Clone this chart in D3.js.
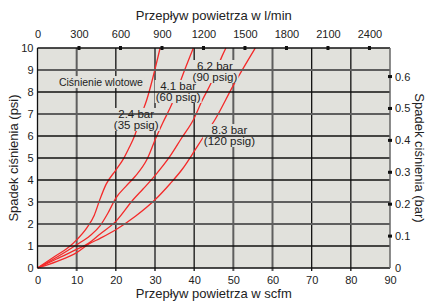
<!DOCTYPE html>
<html>
<head>
<meta charset="utf-8">
<script src="https://cdn.jsdelivr.net/npm/d3@7"></script>
<style>
  body { margin: 0; background: #fff; }
  svg { display: block; font-family: "Liberation Sans", Arial, sans-serif; }
</style>
</head>
<body>
<div id="chart"></div>
<script>
// data: flow in scfm vs pressure drop in psi
var scfmTicks = [0, 10, 20, 30, 40, 50, 60, 70, 80, 90];
var psiTicks = [0, 1, 2, 3, 4, 5, 6, 7, 8, 9, 10];
var lpmTicks = [0, 300, 600, 900, 1200, 1500, 1800, 2100, 2400];
var barTicks = [0, 0.1, 0.2, 0.3, 0.4, 0.5, 0.6];
var darkScfm = [10, 30, 50, 60];
var darkPsi = [2, 3, 7, 9];

var curve24 = [[0,0],[4,0.48],[8,0.95],[10,1.28],[12.5,1.8],[14.5,2.4],[15.9,3.1],[17.5,3.8],[20,4.45],[21.9,4.95],[23.2,5.4],[24.9,6.06],[26.5,6.95],[27.9,7.65],[31.3,10]];
var curve41 = [[0,0],[5,0.5],[10,1.06],[13.4,1.47],[15.9,1.9],[18,2.5],[20,3.18],[22.5,3.7],[24.9,4.16],[27.9,4.92],[30.2,5.9],[32,6.6],[34.3,7.45],[36.8,8.64],[39.8,10]];
var curve62 = [[0,0],[5,0.42],[10,0.85],[13,1.12],[16,1.55],[20,2.12],[24.4,3.1],[27,3.6],[30,4.2],[33.8,5.07],[36.8,5.91],[39.8,6.74],[42,7.6],[44.5,8.48],[47.1,9.62],[48.1,10]];
var curve83 = [[0,0],[5,0.3],[10,0.7],[13,1.08],[16,1.35],[20,1.74],[25,2.35],[30,3.1],[33.8,3.82],[37,4.5],[40,5.3],[41.9,5.83],[45.3,6.74],[50,8.3],[55.6,10]];
var curves = [curve24, curve41, curve62, curve83];

// curve labels: [scfm, psi of first baseline, line1, line2]
var curveLabels = [
  [25.2, 6.82, "2.4 bar", "(35 psig)"],
  [35.9, 8.09, "4.1 bar", "(60 psig)"],
  [45.3, 9.0, "6.2 bar", "(90 psig)"],
  [49.0, 6.09, "8.3 bar", "(120 psig)"]
];
var inletLabel = [16.2, 8.27, "Ciśnienie wlotowe"];

var W = 428, H = 303;
var margin = {top: 48, right: 38, bottom: 35, left: 37.5};
var width = W - margin.left - margin.right,
    height = H - margin.top - margin.bottom;

var x = d3.scaleLinear().domain([0, 90]).range([0, width]);
var y = d3.scaleLinear().domain([0, 10]).range([height, 0]);
var LPM = 28.3168, BAR = 0.0689476;

var svg = d3.select("#chart").append("svg")
    .attr("width", W).attr("height", H);
var g = svg.append("g")
    .attr("transform", "translate(" + margin.left + "," + margin.top + ")");

g.append("rect")
    .attr("width", width).attr("height", height)
    .attr("fill", "#e1e1dc");

// vertical grid
g.selectAll(".vgrid")
  .data(scfmTicks.slice(1, -1))
  .enter().append("line")
    .attr("class", "vgrid")
    .attr("x1", function(d) { return x(d); })
    .attr("x2", function(d) { return x(d); })
    .attr("y1", 0).attr("y2", height + 3)
    .attr("stroke", function(d) { return darkScfm.indexOf(d) >= 0 ? "#5e5e5e" : "#111"; })
    .attr("stroke-width", function(d) { return darkScfm.indexOf(d) >= 0 ? 2 : 1.3; });

var line = d3.line()
    .x(function(d) { return x(d[0]); })
    .y(function(d) { return y(d[1]); })
    .curve(d3.curveMonotoneX);

g.selectAll(".curve")
  .data(curves)
  .enter().append("path")
    .attr("class", "curve")
    .attr("d", line)
    .attr("fill", "none")
    .attr("stroke", "#f42a2a")
    .attr("stroke-width", 1.3);

// label boxes hide the curves and vertical lines behind them
var boxLayer = g.append("g");
var hLayer = g.append("g");
var textLayer = g.append("g");
function boxedLabel(cx, psi, lines, size) {
  var t = textLayer.append("text")
      .attr("text-anchor", "middle")
      .attr("font-size", size)
      .attr("fill", "#222");
  lines.forEach(function(s, i) {
    t.append("tspan").attr("x", x(cx)).attr("y", y(psi) + i * 11).text(s);
  });
  var bb = t.node().getBBox();
  boxLayer.append("rect")
      .attr("x", bb.x - 1).attr("y", bb.y)
      .attr("width", bb.width + 2).attr("height", bb.height)
      .attr("fill", "#e1e1dc");
}
curveLabels.forEach(function(d) {
  boxedLabel(d[0], d[1], [d[2], d[3]], 11.5);
});
boxedLabel(inletLabel[0], inletLabel[1], [inletLabel[2]], 10.5);

// horizontal grid
hLayer.selectAll(".hgrid")
  .data(psiTicks.slice(1, -1))
  .enter().append("line")
    .attr("class", "hgrid")
    .attr("x1", 0).attr("x2", width)
    .attr("y1", function(d) { return y(d); })
    .attr("y2", function(d) { return y(d); })
    .attr("stroke", function(d) { return darkPsi.indexOf(d) >= 0 ? "#5e5e5e" : "#111"; })
    .attr("stroke-width", function(d) { return darkPsi.indexOf(d) >= 0 ? 2 : 1.3; });

// frame
g.append("line").attr("x1", 0).attr("x2", width).attr("y1", 0).attr("y2", 0)
    .attr("stroke", "#111").attr("stroke-width", 1.5);
g.append("line").attr("x1", 0).attr("x2", width).attr("y1", height).attr("y2", height)
    .attr("stroke", "#111").attr("stroke-width", 1.5);
g.append("line").attr("x1", 0).attr("x2", 0).attr("y1", 0).attr("y2", height)
    .attr("stroke", "#111").attr("stroke-width", 1.3);
g.append("line").attr("x1", width).attr("x2", width).attr("y1", 0).attr("y2", height)
    .attr("stroke", "#666").attr("stroke-width", 1.5);

// axes
var fs = 11;
function styleAxis(a) {
  a.select(".domain").remove();
  a.selectAll("text").attr("font-size", fs).attr("fill", "#222").attr("font-family", null);
}
g.append("g")
    .attr("transform", "translate(0," + height + ")")
    .call(d3.axisBottom(x).tickValues(scfmTicks).tickSize(0).tickPadding(8))
    .call(styleAxis);

g.append("g")
    .call(d3.axisLeft(y).tickValues(psiTicks).tickSize(0).tickPadding(4))
    .call(styleAxis);

var xTop = d3.scaleLinear().domain([0, 90 * LPM]).range([0, width]);
g.append("g")
    .call(d3.axisTop(xTop).tickValues(lpmTicks).tickSize(0).tickPadding(10)
      .tickFormat(d3.format("d")))
    .call(styleAxis);
g.selectAll(".topmark")
  .data(lpmTicks.slice(1))
  .enter().append("rect")
    .attr("class", "topmark")
    .attr("x", function(d) { return xTop(d) - 1.5; })
    .attr("y", -2).attr("width", 3).attr("height", 4)
    .attr("fill", "#111");

var yRight = d3.scaleLinear().domain([0, 10 * BAR]).range([height, 0]);
g.append("g")
    .attr("transform", "translate(" + width + ",0)")
    .call(d3.axisRight(yRight).tickValues(barTicks).tickSize(0).tickPadding(5)
      .tickFormat(function(d) { return d === 0 ? "0" : d3.format(".1f")(d); }))
    .call(styleAxis);
g.selectAll(".rightmark")
  .data(barTicks.slice(1))
  .enter().append("rect")
    .attr("class", "rightmark")
    .attr("x", width - 2).attr("y", function(d) { return yRight(d) - 1.5; })
    .attr("width", 4).attr("height", 3)
    .attr("fill", "#111");

// titles
var tfs = 13;
svg.append("text").attr("x", margin.left + width / 2).attr("y", 20)
    .attr("text-anchor", "middle").attr("font-size", tfs).attr("fill", "#222")
    .text("Przepływ powietrza w l/min");
svg.append("text").attr("x", margin.left + width / 2).attr("y", 298)
    .attr("text-anchor", "middle").attr("font-size", tfs).attr("fill", "#222")
    .text("Przepływ powietrza w scfm");
svg.append("text")
    .attr("transform", "translate(18," + (margin.top + height / 2) + ") rotate(-90)")
    .attr("text-anchor", "middle").attr("font-size", tfs).attr("fill", "#222")
    .text("Spadek ciśnienia (psi)");
svg.append("text")
    .attr("transform", "translate(415," + (margin.top + height / 2) + ") rotate(90)")
    .attr("text-anchor", "middle").attr("font-size", tfs).attr("fill", "#222")
    .text("Spadek ciśnienia (bar)");
</script>
</body>
</html>
